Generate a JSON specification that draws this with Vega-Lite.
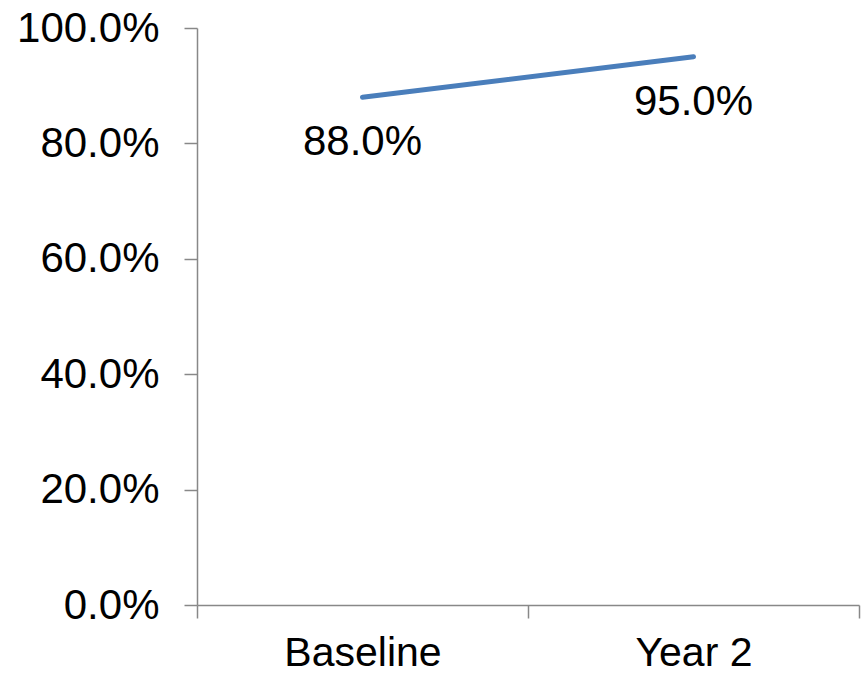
{
  "$schema": "https://vega.github.io/schema/vega-lite/v6.json",
  "width": 662,
  "height": 577,
  "autosize": "none",
  "padding": {"left": 197, "top": 28, "right": 3, "bottom": 71},
  "background": "white",
  "config": {
    "view": {"stroke": null},
    "font": "Liberation Sans"
  },
  "data": {
    "values": [
      {"period": "Baseline", "value": 0.88},
      {"period": "Year 2", "value": 0.95}
    ]
  },
  "encoding": {
    "x": {
      "field": "period",
      "type": "nominal",
      "sort": null,
      "scale": {"type": "band", "paddingInner": 0, "paddingOuter": 0},
      "axis": {
        "title": null,
        "labelAngle": 0,
        "labelFontSize": 41,
        "labelColor": "black",
        "labelFont": "Liberation Sans",
        "labelPadding": 15,
        "tickBand": "extent",
        "tickSize": 13,
        "tickColor": "#888888",
        "domainColor": "#888888",
        "domainWidth": 1.5,
        "tickWidth": 1.5,
        "grid": false
      }
    },
    "y": {
      "field": "value",
      "type": "quantitative",
      "scale": {"domain": [0, 1], "nice": false},
      "axis": {
        "title": null,
        "format": ".1%",
        "values": [0, 0.2, 0.4, 0.6, 0.8, 1.0],
        "labelFontSize": 42,
        "labelColor": "black",
        "labelFont": "Liberation Sans",
        "labelPadding": 25,
        "tickSize": 13,
        "tickColor": "#888888",
        "domainColor": "#888888",
        "domainWidth": 1.5,
        "tickWidth": 1.5,
        "grid": false
      }
    }
  },
  "layer": [
    {
      "mark": {"type": "line", "color": "#4A7EBB", "strokeWidth": 5, "strokeCap": "round"},
      "encoding": {"x": {"field": "period", "type": "nominal", "sort": null, "bandPosition": 0.5}}
    },
    {
      "mark": {"type": "text", "fontSize": 42, "color": "black", "dy": 45, "baseline": "middle", "font": "Liberation Sans"},
      "encoding": {
        "x": {"field": "period", "type": "nominal", "sort": null, "bandPosition": 0.5},
        "text": {"field": "value", "type": "quantitative", "format": ".1%"}
      }
    }
  ]
}
